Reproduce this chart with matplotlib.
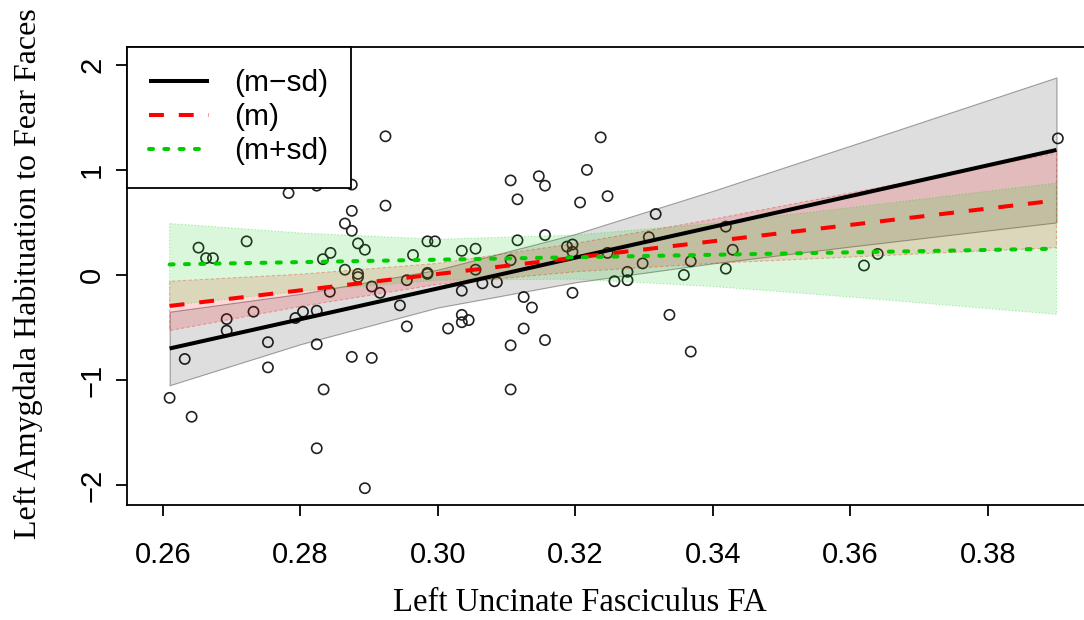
import matplotlib
matplotlib.use("Agg")
import matplotlib.pyplot as plt

# ── Data ─────────────────────────────────────────────────────────────────────
fa = [0.2610, 0.2642, 0.2632, 0.2652, 0.2663, 0.2673, 0.2693, 0.2693, 0.2722,
      0.2732, 0.2753, 0.2753, 0.2783, 0.2793, 0.2804, 0.2824, 0.2824, 0.2824,
      0.2824, 0.2834, 0.2833, 0.2844, 0.2843, 0.2865, 0.2875, 0.2875, 0.2865,
      0.2875, 0.2884, 0.2894, 0.2884, 0.2884, 0.2875, 0.2904, 0.2894, 0.2904,
      0.2916, 0.2924, 0.2924, 0.2945, 0.2955, 0.2955, 0.2964, 0.2985, 0.2985,
      0.2985, 0.2996, 0.3015, 0.3035, 0.3035, 0.3035, 0.3035, 0.3045, 0.3055,
      0.3055, 0.3065, 0.3086, 0.3106, 0.3106, 0.3106, 0.3106, 0.3116, 0.3116,
      0.3125, 0.3125, 0.3137, 0.3147, 0.3156, 0.3156, 0.3156, 0.3188, 0.3196,
      0.3196, 0.3196, 0.3207, 0.3217, 0.3237, 0.3247, 0.3247, 0.3257, 0.3276,
      0.3276, 0.3298, 0.3307, 0.3317, 0.3337, 0.3358, 0.3368, 0.3368, 0.3419,
      0.3419, 0.3429, 0.3620, 0.3640, 0.3902]
habituation = [-1.17, -1.35, -0.80, 0.26, 0.16, 0.16, -0.42, -0.53, 0.32,
               -0.35, -0.64, -0.88, 0.78, -0.41, -0.35, -0.34, -0.66, 0.85,
               -1.65, -1.09, 0.15, 0.21, -0.16, 0.05, 0.61, 0.86, 0.49,
               0.42, 0.30, 0.24, 0.01, -0.02, -0.78, -0.79, -2.03, -0.11,
               -0.17, 1.32, 0.66, -0.29, -0.05, -0.49, 0.19, 0.02, 0.01,
               0.32, 0.32, -0.51, 0.23, -0.15, -0.38, -0.45, -0.43, 0.25,
               0.05, -0.08, -0.07, 0.90, 0.14, -0.67, -1.09, 0.72, 0.33,
               -0.21, -0.51, -0.31, 0.94, 0.85, 0.38, -0.62, 0.27, 0.29,
               0.22, -0.17, 0.69, 1.00, 1.31, 0.75, 0.21, -0.06, 0.03,
               -0.05, 0.11, 0.36, 0.58, -0.38, 0.00, 0.13, -0.73, 0.46,
               0.06, 0.24, 0.09, 0.20, 1.30]

# simple slopes: fitted line end points
line_x = [0.261, 0.390]
low_line = [-0.70, 1.19]     # (m-sd)
mid_line = [-0.295, 0.71]    # (m)
high_line = [0.10, 0.25]     # (m+sd)

# confidence bands, sampled along x
band_x = [0.261, 0.28, 0.30, 0.32, 0.34, 0.36, 0.39]
low_upper = [-0.35, -0.18, 0.05, 0.39, 0.80, 1.23, 1.88]
low_lower = [-1.05, -0.66, -0.31, -0.07, 0.11, 0.27, 0.50]
mid_upper = [-0.06, 0.007, 0.11, 0.30, 0.53, 0.78, 1.16]
mid_lower = [-0.53, -0.30, -0.09, 0.03, 0.11, 0.17, 0.26]
high_upper = [0.49, 0.40, 0.34, 0.38, 0.49, 0.64, 0.875]
high_lower = [-0.29, -0.155, -0.05, -0.04, -0.11, -0.21, -0.375]

x_ticks = [0.26, 0.28, 0.30, 0.32, 0.34, 0.36, 0.38]
y_ticks = [-2, -1, 0, 1, 2]

GREEN = "#00CD00"
SANS = "Liberation Sans"
SERIF = "Liberation Serif"

# ── Figure ───────────────────────────────────────────────────────────────────
fig = plt.figure(figsize=(10.84, 6.2), dpi=100)
ax = fig.add_axes([127 / 1084, 1 - 505 / 620, 1 - 127 / 1084, (505 - 47) / 620])

ax.scatter(fa, habituation, s=54, facecolors="none", edgecolors="#222222",
           linewidths=1.2, zorder=2)

# bands: grey (m-sd), red (m), green (m+sd)
ax.fill_between(band_x, low_lower, low_upper, facecolor=(0, 0, 0, 0.13),
                edgecolor=(0, 0, 0, 0.35), linewidth=0.8, zorder=3)
ax.fill_between(band_x, mid_lower, mid_upper, facecolor=(1, 0, 0, 0.15),
                edgecolor=(1, 0, 0, 0.3), linewidth=0.8, linestyle=(0, (3, 2)),
                zorder=4)
ax.fill_between(band_x, high_lower, high_upper, facecolor=(0, 0.8, 0, 0.14),
                edgecolor=(0, 0.8, 0, 0.35), linewidth=0.8, linestyle=(0, (1, 2)),
                zorder=5)

ax.plot(line_x, low_line, color="black", lw=2.9, solid_capstyle="butt",
        label="(m\u2212sd)", zorder=6)
ax.plot(line_x, mid_line, color="red", lw=2.9, dashes=(3.7, 3.7),
        label="(m)", zorder=6)
ax.plot(line_x, high_line, color=GREEN, lw=2.9, dashes=(1, 2.8),
        dash_capstyle="round", label="(m+sd)", zorder=6)

ax.set_xlim(0.2548, 0.3940)
ax.set_ylim(-2.19, 2.17)
ax.set_xticks(x_ticks)
ax.set_xticklabels([f"{t:.2f}" for t in x_ticks], fontfamily=SANS, fontsize=21)
ax.set_yticks(y_ticks)
ax.set_yticklabels([str(t).replace("-", "\u2212") for t in y_ticks],
                   fontfamily=SANS, fontsize=21, rotation=90, va="center")
ax.tick_params(axis="x", length=8, width=1.3, pad=18)
ax.tick_params(axis="y", length=8, width=1.3, pad=7)

for side in ("left", "top", "bottom"):
    ax.spines[side].set_linewidth(1.3)
ax.spines["right"].set_visible(False)

ax.set_xlabel("Left Uncinate Fasciculus FA", fontfamily=SERIF, fontsize=23.5)
ax.set_ylabel("Left Amygdala Habituation to Fear Faces", fontfamily=SERIF,
              fontsize=23)
ax.xaxis.set_label_coords((580 - 127) / (1084 - 127), -(603 - 505) / 458)
ax.xaxis.label.set_va("center")
ax.yaxis.set_label_coords(-(127 - 28) / (1084 - 127), (505 - 274) / 458)
ax.yaxis.label.set_va("center")

leg = ax.legend(loc="upper left", borderaxespad=0, fancybox=False,
                framealpha=1, edgecolor="black", handlelength=2.0,
                handletextpad=0.85, labelspacing=0.2, borderpad=0.75,
                prop={"family": SANS, "size": 21.5})
leg.get_frame().set_linewidth(1.3)
leg.set_zorder(10)

fig.savefig("out.png", dpi=100)
